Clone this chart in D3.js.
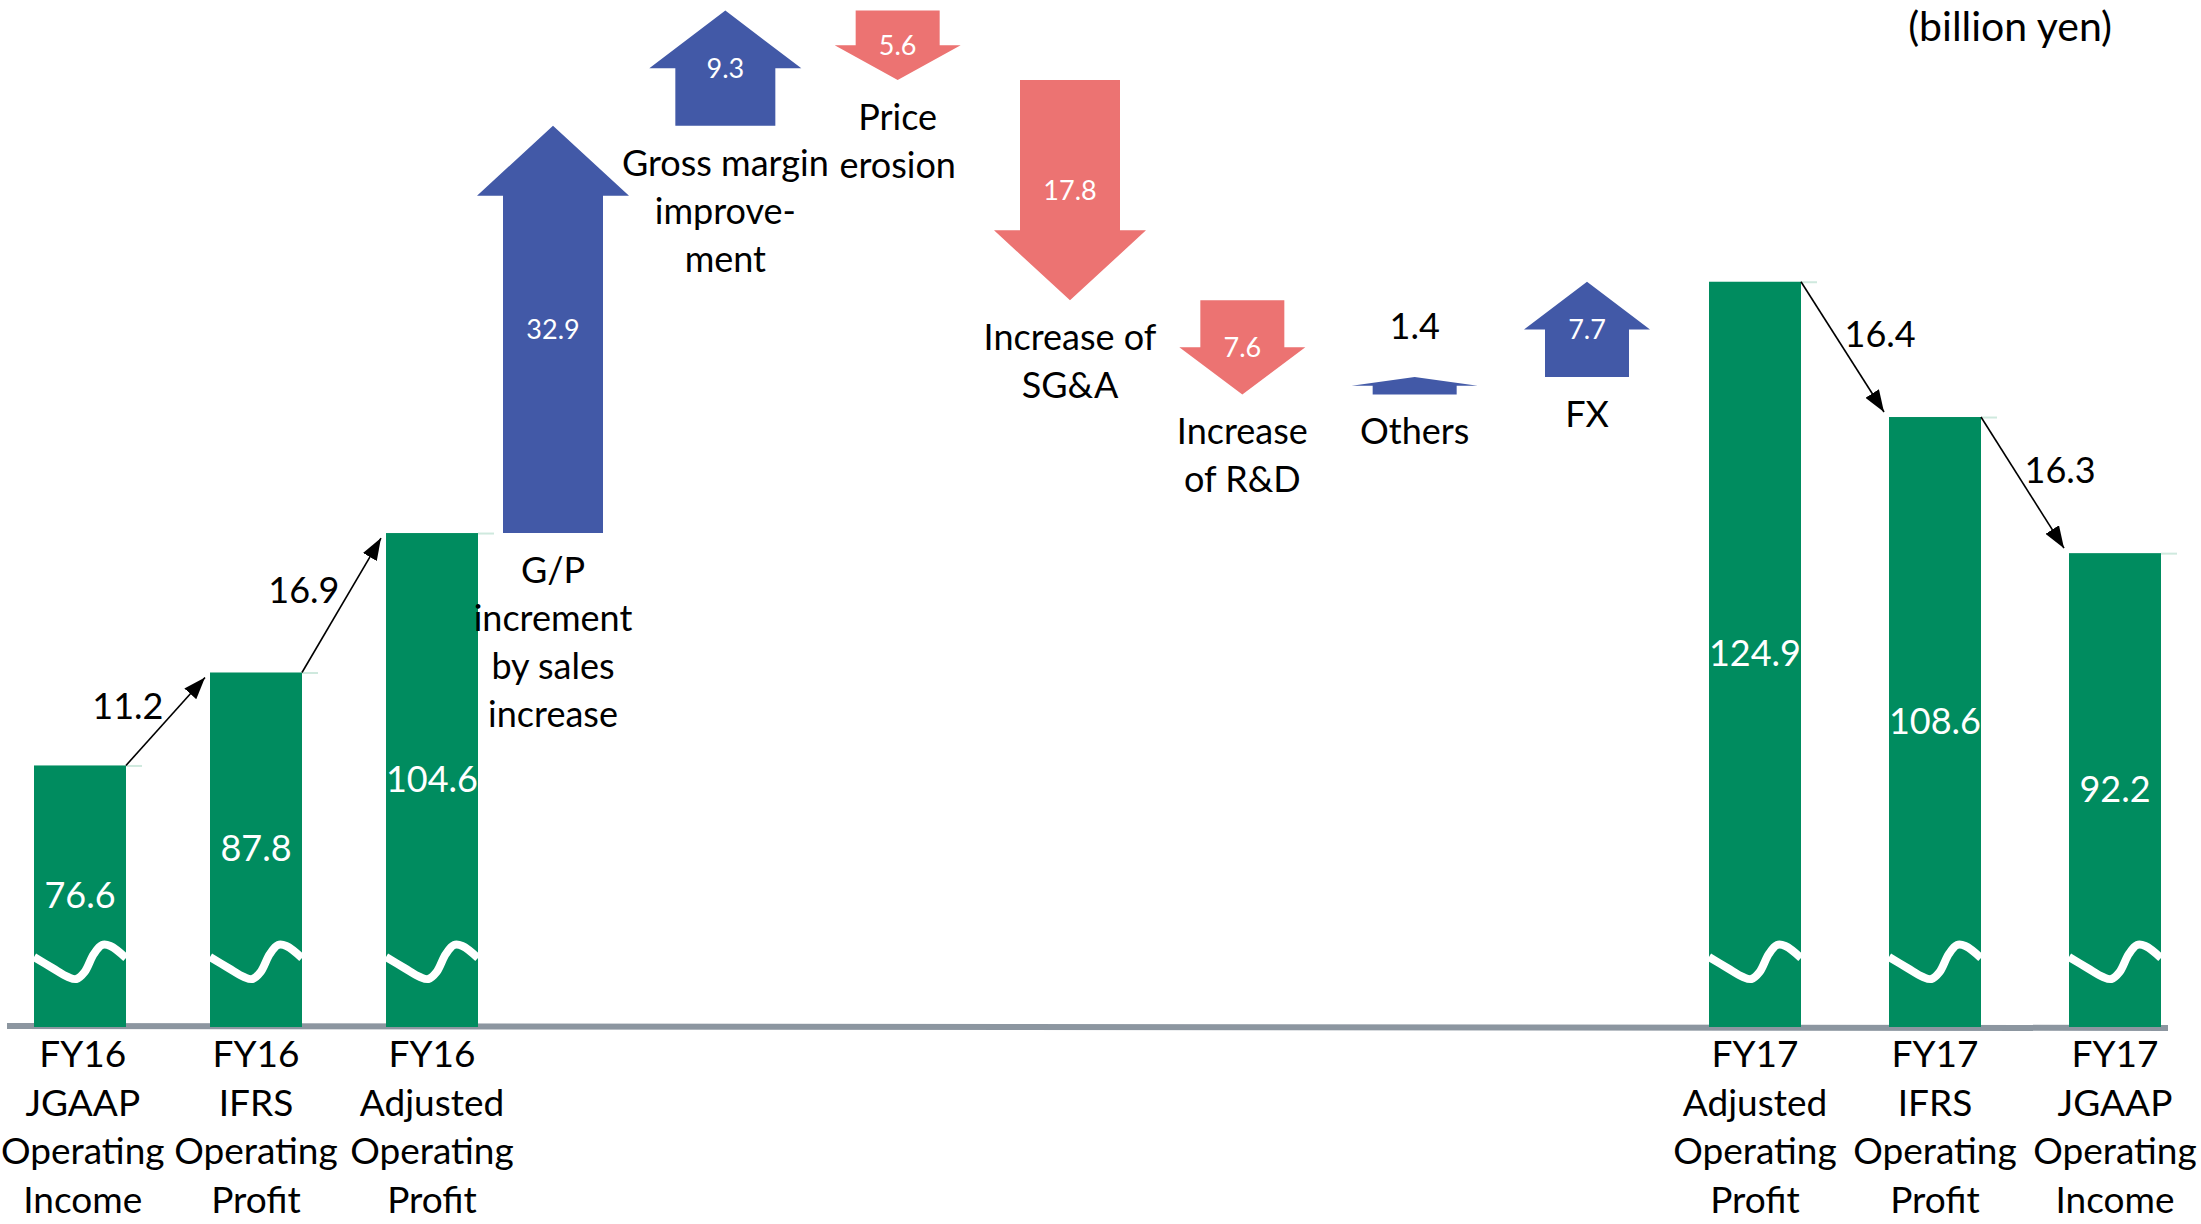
<!DOCTYPE html>
<html>
<head>
<meta charset="utf-8">
<script src="https://cdn.jsdelivr.net/npm/d3@7"></script>
<style>
  html, body { margin: 0; padding: 0; background: #fff; }
  svg { display: block; font-family: Lato, "Open Sans", sans-serif; }
</style>
</head>
<body>
<div id="chart"></div>
<script>
// ---- data (billion yen) ----
const fy16Labels = [["FY16", "JGAAP", "Operating", "Income"], ["FY16", "IFRS", "Operating", "Profit"], ["FY16", "Adjusted", "Operating", "Profit"]];
const fy16Values = [76.6, 87.8, 104.6];
const fy16Steps = [11.2, 16.9];

const factorLabels = [["G/P", "increment", "by sales", "increase"], ["Gross margin", "improve-", "ment"], ["Price", "erosion"],
                      ["Increase of", "SG&A"], ["Increase", "of R&D"], ["Others"], ["FX"]];
const factorValues = [32.9, 9.3, -5.6, -17.8, -7.6, 1.4, 7.7];

const fy17Labels = [["FY17", "Adjusted", "Operating", "Profit"], ["FY17", "IFRS", "Operating", "Profit"], ["FY17", "JGAAP", "Operating", "Income"]];
const fy17Values = [124.9, 108.6, 92.2];
const fy17Steps = [16.4, 16.3];

const unitText = "(billion yen)";

// ---- layout ----
const width = 2201, height = 1224;
const baseY = 1025;
const barW = 92;
const fs = 37; // label font size
const green = "#008c5f", blue = "#4259a7", red = "#ec7372";

const svg = d3.select("#chart").append("svg").attr("width", width).attr("height", height);

const defs = svg.append("defs");
defs.append("marker").attr("id", "tip")
    .attr("viewBox", "0 0 10 10").attr("refX", 10).attr("refY", 5)
    .attr("markerUnits", "userSpaceOnUse").attr("markerWidth", 22).attr("markerHeight", 16)
    .attr("orient", "auto").attr("preserveAspectRatio", "none")
  .append("path").attr("d", "M0,0L10,5L0,10Z").attr("fill", "#000");

// x positions: three groups
const xLeft = d3.scalePoint().domain(d3.range(fy16Values.length)).range([80, 432]);
const xMid = d3.scalePoint().domain(d3.range(factorValues.length)).range([553, 1587]);
const xRight = d3.scalePoint().domain(d3.range(fy17Values.length)).range([1755, 2115]);

// waterfall scale for the factor arrows
const yFlow = d3.scaleLinear().domain([100, 150]).range([590, -29]);
// bars are broken (wavy cut), drawn on a compressed scale hung from the waterfall
const BAR_K = 8.3;
const barScale = anchor => d3.scaleLinear().domain([anchor - 50, anchor]).range([yFlow(anchor) + 50 * BAR_K, yFlow(anchor)]);
const yLeft = barScale(fy16Values[fy16Values.length - 1]);
const yRight = barScale(fy17Values[0]);

// baseline
svg.append("line").attr("x1", 7).attr("x2", 2168).attr("y1", baseY + 1).attr("y2", baseY + 3)
    .attr("stroke", "#8c96a0").attr("stroke-width", 6);

const squiggle = d3.line().curve(d3.curveCatmullRom);
const wave = [[0, 0], [0.2, 11], [0.37, 20], [0.46, 22], [0.55, 15], [0.65, -3], [0.74, -12], [0.83, -11], [1, 1]];

function drawBars(values, labels, steps, xs, ys) {
    const g = svg.append("g");
    const bars = values.map((v, i) => ({ v, lab: labels[i], x: xs(i), top: ys(v) }));

    const node = g.selectAll("g.bar").data(bars).join("g").attr("class", "bar");
    node.append("rect")
        .attr("x", d => d.x - barW / 2).attr("y", d => d.top)
        .attr("width", barW).attr("height", d => baseY + 2 - d.top)
        .attr("fill", green);
    node.append("line")
        .attr("x1", d => d.x + barW / 2).attr("x2", d => d.x + barW / 2 + 16)
        .attr("y1", d => d.top + 0.5).attr("y2", d => d.top + 0.5)
        .attr("stroke", "#cfe9de").attr("stroke-width", 2);
    node.append("path")
        .attr("d", d => squiggle(wave.map(p => [d.x - barW / 2 + p[0] * barW, baseY - 68 + p[1]])))
        .attr("fill", "none").attr("stroke", "#fff").attr("stroke-width", 8);
    node.append("text")
        .attr("x", d => d.x).attr("y", d => (d.top + baseY) / 2)
        .attr("dy", "0.35em").attr("text-anchor", "middle")
        .attr("fill", "#fff").attr("font-size", 36)
        .text(d => d.v.toFixed(1));
    const cat = node.append("text")
        .attr("text-anchor", "middle").attr("font-size", fs).attr("fill", "#000");
    cat.selectAll("tspan").data(d => d.lab.map(t => ({ t, x: d.x }))).join("tspan")
        .attr("x", d => d.x).attr("y", (d, i) => 1067 + i * 48.5)
        .text(d => d.t);
    // keep the category text inside the page
    cat.each(function() {
        const b = this.getBBox();
        if (b.x < 1) d3.select(this).attr("transform", `translate(${1 - b.x},0)`);
    });

    // connectors between neighbouring bars
    steps.forEach((s, i) => {
        const a = bars[i], b = bars[i + 1];
        const x1 = a.x + barW / 2, y1 = a.top;
        const dir = Math.sign(b.top - a.top);
        const x2 = b.x - barW / 2 - 5, y2 = b.top - 5 * dir;
        g.append("line").attr("x1", x1).attr("y1", y1).attr("x2", x2).attr("y2", y2)
            .attr("stroke", "#000").attr("stroke-width", 1.6).attr("marker-end", "url(#tip)");
        const mx = (x1 + x2) / 2, my = (y1 + y2) / 2;
        g.append("text")
            .attr("x", dir < 0 ? mx - 2 : mx + 2).attr("y", dir < 0 ? my - 2 : my)
            .attr("text-anchor", dir < 0 ? "end" : "start")
            .attr("font-size", 36).attr("fill", "#000")
            .text(s.toFixed(1));
    });
}

drawBars(fy16Values, fy16Labels, fy16Steps, xLeft, yLeft);
drawBars(fy17Values, fy17Labels, fy17Steps, xRight, yRight);

// factor arrows as a waterfall
let running = fy16Values[fy16Values.length - 1];
const arrows = factorValues.map((v, i) => {
    const from = running; running += v;
    return { v, lab: factorLabels[i], x: xMid(i), y0: yFlow(from), y1: yFlow(running) };
});

const ag = svg.append("g");
const arrow = ag.selectAll("g.arrow").data(arrows).join("g").attr("class", "arrow");
arrow.append("path")
    .attr("fill", d => d.v > 0 ? blue : red)
    .attr("d", d => {
        const wide = Math.abs(d.v) >= 9;
        const bw = wide ? 100 : 84, hw = wide ? 152 : 126;
        const len = Math.abs(d.y1 - d.y0);
        const hh = Math.min(len / 2, 70);
        const dir = Math.sign(d.y1 - d.y0);
        const sh = d.y1 - dir * hh;
        return d3.line()([
            [d.x - bw / 2, d.y0], [d.x - bw / 2, sh], [d.x - hw / 2, sh], [d.x, d.y1],
            [d.x + hw / 2, sh], [d.x + bw / 2, sh], [d.x + bw / 2, d.y0]
        ]) + "Z";
    });
// value: inside the arrow when it fits, otherwise above it
const fits = d => Math.abs(d.y1 - d.y0) > 40;
arrow.append("text")
    .attr("x", d => d.x)
    .attr("y", d => fits(d) ? (d.y0 + d.y1) / 2 : Math.min(d.y0, d.y1) - 38)
    .attr("dy", d => fits(d) ? "0.35em" : 0)
    .attr("text-anchor", "middle")
    .attr("font-size", d => fits(d) ? 27 : 36)
    .attr("fill", d => fits(d) ? "#fff" : "#000")
    .text(d => Math.abs(d.v).toFixed(1));
arrow.append("text")
    .attr("text-anchor", "middle").attr("font-size", 36).attr("fill", "#000")
    .selectAll("tspan").data(d => d.lab.map(t => ({ t, x: d.x, y: Math.max(d.y0, d.y1) }))).join("tspan")
    .attr("x", d => d.x).attr("y", (d, i) => d.y + 50 + i * 48)
    .text(d => d.t);

svg.append("text").attr("x", 2112).attr("y", 41).attr("text-anchor", "end")
    .attr("font-size", 41).attr("fill", "#000").text(unitText);
</script>
</body>
</html>
